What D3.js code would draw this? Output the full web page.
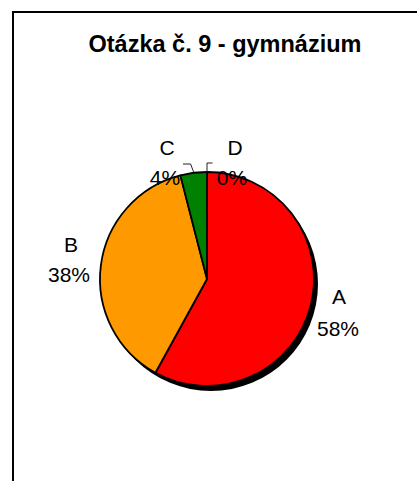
<!DOCTYPE html>
<html>
<head>
<meta charset="utf-8">
<script src="https://cdn.jsdelivr.net/npm/d3@7"></script>
<style>
  html, body { margin: 0; padding: 0; background: #fff; }
  svg { display: block; }
</style>
</head>
<body>
<svg id="chart" width="417" height="481"></svg>
<script>
// Answer shares for question 9 (grammar school), in percent
const categories = ["A", "B", "C", "D"];
const values = [58, 38, 4, 0];
const colors = ["#FF0000", "#FF9900", "#008000", "#0000FF"];
const title = "Otázka č. 9 - gymnázium";

const svg = d3.select("#chart");
const W = 417, H = 481;
const cx = 207, cy = 279, r = 107;
const fontFam = "Liberation Sans, Arial, sans-serif";

// Chart frame (runs past the right and bottom edges)
svg.append("rect")
  .attr("x", 13).attr("y", 12)
  .attr("width", W + 20).attr("height", H + 20)
  .attr("fill", "#fff")
  .attr("stroke", "#000").attr("stroke-width", 2);

svg.append("text")
  .attr("x", 225).attr("y", 52)
  .attr("text-anchor", "middle")
  .attr("font-family", fontFam)
  .attr("font-weight", "bold")
  .attr("font-size", 23.5)
  .text(title);

const data = categories.map((c, i) => ({ cat: c, value: values[i], color: colors[i] }));
const total = d3.sum(values);

const pie = d3.pie().sort(null).value(d => d.value);
const arcs = pie(data);
const arc = d3.arc().innerRadius(0).outerRadius(r);

const g = svg.append("g").attr("transform", `translate(${cx},${cy})`);

// drop shadow under the pie
g.append("circle")
  .attr("cx", 4).attr("cy", 5).attr("r", r)
  .attr("fill", "#000");

g.selectAll("path.slice")
  .data(arcs.filter(d => d.value > 0))
  .join("path")
  .attr("class", "slice")
  .attr("d", arc)
  .attr("fill", d => d.data.color)
  .attr("stroke", "#000")
  .attr("stroke-width", 1.8)
  .attr("stroke-linejoin", "round");

// Label anchor offsets from the pie centre (category line, percent line)
const labelPos = {
  A: { x: 132, y: 25, px: 131, py: 57 },
  B: { x: -136, y: -27, px: -138, py: 3 },
  C: { x: -40, y: -124, px: -42, py: -94 },
  D: { x: 28, y: -124, px: 25, py: -94 }
};

arcs.forEach(d => {
  const p = labelPos[d.data.cat];
  const pct = Math.round(d.data.value / total * 100) + "%";
  const t = g.append("text")
    .attr("text-anchor", "middle")
    .attr("font-family", fontFam)
    .attr("font-size", 21)
    .attr("fill", "#000");
  t.append("tspan").attr("x", p.x).attr("y", p.y).text(d.data.cat);
  t.append("tspan").attr("x", p.px).attr("y", p.py).text(pct);
});

// Leader lines for the two small slices
const leader = d3.line();
const cArc = arcs[2];
const cMid = (cArc.startAngle + cArc.endAngle) / 2;
g.append("path")
  .attr("d", leader([
    [-24, -r - 8],
    [Math.sin(cMid) * r - 3, -r - 8],
    [Math.sin(cMid) * r, -Math.cos(cMid) * r - 1]
  ]))
  .attr("fill", "none").attr("stroke", "#222").attr("stroke-width", 1);

const dArc = arcs[3];
g.append("path")
  .attr("d", leader([
    [5.5, -r - 9],
    [Math.sin(dArc.startAngle) * r, -r - 9],
    [Math.sin(dArc.startAngle) * r, -Math.cos(dArc.startAngle) * r]
  ]))
  .attr("fill", "none").attr("stroke", "#222").attr("stroke-width", 1);
</script>
</body>
</html>
